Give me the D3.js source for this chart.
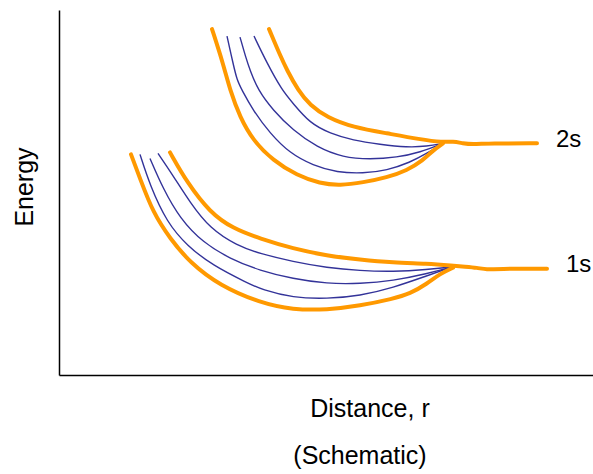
<!DOCTYPE html>
<html><head><meta charset="utf-8">
<script src="https://cdn.jsdelivr.net/npm/d3@7"></script>
<style>html,body{margin:0;padding:0;background:#fff;}</style>
</head><body>
<svg id="chart" width="593" height="474"></svg>
<script>
// Schematic data (r, E) in arbitrary units
const s2Outer = [[210,345],[221,319],[228,304],[239,284],[251,269],[268,257],[294,247],[328,241],[361,235],[384,232],[394,233],[404,231],[413,230],[431,231],[478,231]];
const s2Blue3 = [[195,338],[208,311],[223,284],[234,271],[251,251],[271,241],[294,234],[321,230],[348,227],[368,228],[384,231]];
const s2Blue2 = [[181,337],[187,316],[191,304],[199,284],[214,264],[234,244],[258,227],[284,217],[311,215],[338,217],[361,222],[384,231]];
const s2Blue1 = [[168,338],[174,311],[178,294],[183,284],[194,264],[211,241],[231,221],[254,209],[278,202],[304,201],[328,204],[351,212],[368,221],[384,231]];
const s2Inner = [[153,345],[164,311],[171,284],[181,257],[194,234],[214,214],[238,199],[261,191],[281,189],[304,192],[328,197],[348,204],[364,214],[374,224],[384,231]];

const s1Outer = [[111,222],[128,192],[151,162],[174,146],[201,136],[234,126],[268,119],[301,115],[334,112],[368,111],[394,109],[406,108],[418,107],[428,105],[438,106],[488,106]];
const s1Blue3 = [[99,221],[114,199],[131,172],[151,146],[178,129],[201,121],[234,113],[268,107],[301,104],[334,103],[368,105],[394,108]];
const s1Blue2 = [[91,216],[104,186],[121,156],[144,132],[171,116],[201,104],[234,96],[268,91],[301,91],[334,94],[368,101],[394,108]];
const s1Blue1 = [[81,220],[91,189],[108,152],[128,129],[154,109],[188,92],[203,85],[234,77],[268,76],[301,79],[334,87],[368,99],[394,108]];
const s1Inner = [[72,220],[81,196],[94,162],[111,136],[131,112],[161,89],[201,72],[234,65],[268,65],[301,69],[334,76],[351,81],[368,91],[381,101],[394,107]];

const stateLabels = [{text:"2s", r:497, E:227}, {text:"1s", r:507, E:103}];
const xTitle = "Distance, r";
const yTitle = "Energy";
const note = "(Schematic)";

const svg = d3.select("#chart");
const margin = {left:59, top:10, right:0, bottom:99};
const W = 593, H = 474;
const x = d3.scaleLinear().domain([0,534]).range([margin.left, W - margin.right]);
const y = d3.scaleLinear().domain([0,364]).range([H - margin.bottom, margin.top]);

// axes (no ticks)
const xAxis = d3.axisBottom(x).tickValues([]).tickSizeOuter(0);
const yAxis = d3.axisLeft(y).tickValues([]).tickSizeOuter(0);
svg.append("g").attr("transform",`translate(0,${y(0)})`).call(xAxis)
  .select(".domain").attr("stroke","#000").attr("stroke-width",1.5);
svg.append("g").attr("transform",`translate(${x(0)},0)`).call(yAxis)
  .select(".domain").attr("stroke","#000").attr("stroke-width",1.5);

const line = d3.line().x(d=>x(d[0])).y(d=>y(d[1])).curve(d3.curveBasis);

const blues = [s2Blue1,s2Blue2,s2Blue3,s1Blue1,s1Blue2,s1Blue3];
const oranges = [s2Outer,s2Inner,s1Outer,s1Inner];

svg.append("g").selectAll("path").data(blues).join("path")
  .attr("d", line).attr("fill","none").attr("stroke","#333399").attr("stroke-width",1.4);
svg.append("g").selectAll("path").data(oranges).join("path")
  .attr("d", line).attr("fill","none").attr("stroke","#FF9900").attr("stroke-width",4)
  .attr("stroke-linecap","round").attr("stroke-linejoin","round");

const font = "'Liberation Sans', Arial, sans-serif";
svg.append("g").selectAll("text").data(stateLabels).join("text")
  .attr("x", d=>x(d.r)).attr("y", d=>y(d.E))
  .attr("font-family", font).attr("font-size", 24).attr("fill","#000")
  .text(d=>d.text);

svg.append("text").attr("x", 370).attr("y", 417).attr("text-anchor","middle")
  .attr("font-family", font).attr("font-size", 25).text(xTitle);
svg.append("text").attr("x", 360).attr("y", 464).attr("text-anchor","middle")
  .attr("font-family", font).attr("font-size", 25).text(note);
svg.append("text").attr("transform","translate(33,187) rotate(-90)").attr("text-anchor","middle")
  .attr("font-family", font).attr("font-size", 25).text(yTitle);
</script>
</body></html>
